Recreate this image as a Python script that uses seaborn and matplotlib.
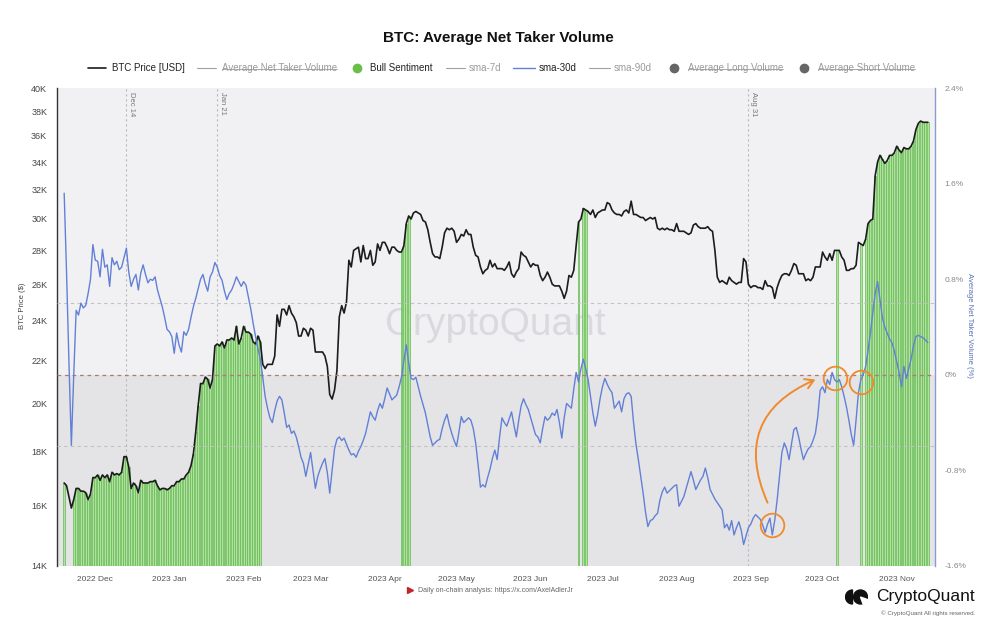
import numpy as np
import pandas as pd
import seaborn as sns
import matplotlib.pyplot as plt
import matplotlib.dates as mdates
from matplotlib.lines import Line2D
from matplotlib.patches import Rectangle, Wedge, Circle
from matplotlib.ticker import FixedLocator, NullLocator, FuncFormatter

# ------------------------------------------------------------
# data (one value per day from 18 Nov 2022)
# ------------------------------------------------------------
start_date = '2022-11-18'

# BTC price, thousand USD
btc_price_k = [
    # 2022 Nov 18-30
    16.8, 16.7, 16.3, 15.9, 16.2, 16.6, 16.6, 16.5, 16.5, 16.45, 16.2, 16.4, 17.0,
    # Dec
    17.0, 17.1, 16.9, 17.1, 17.0, 17.1, 16.85, 17.2, 17.1, 17.15,
    17.1, 17.2, 17.8, 17.8, 17.4, 16.6, 16.8, 16.7, 16.45, 16.9,
    16.8, 16.8, 16.8, 16.85, 16.85, 16.9, 16.7, 16.55, 16.6, 16.6, 16.55,
    # 2023 Jan
    16.6, 16.7, 16.7, 16.85, 16.85, 16.95, 16.95, 17.1, 17.2, 17.45,
    17.9, 18.8, 19.9, 20.9, 20.9, 21.2, 21.1, 20.7, 21.1, 22.7,
    22.8, 22.7, 22.9, 22.6, 23.0, 23.0, 23.1, 23.0, 23.7, 22.8, 23.1,
    # Feb
    23.7, 23.4, 23.4, 23.3, 22.9, 22.8, 23.2, 22.9, 21.8, 21.6,
    21.8, 21.8, 21.8, 22.2, 24.3, 23.7, 24.6, 24.6, 24.3, 24.8,
    24.4, 24.2, 23.9, 23.2, 23.2, 23.6, 23.5, 23.2,
    # Mar
    23.6, 23.5, 22.4, 22.4, 22.4, 22.4, 22.2, 21.7, 20.4, 20.2,
    20.6, 21.5, 24.2, 24.8, 24.4, 25.0, 27.4, 27.0, 28.0, 28.1,
    28.2, 27.3, 28.3, 27.5, 27.5, 28.0, 27.1, 27.3, 28.4, 28.0, 28.5,
    # Apr
    28.5, 28.2, 27.8, 28.2, 28.2, 28.0, 27.9, 27.9, 28.3, 29.7,
    30.2, 30.0, 30.4, 30.5, 30.4, 30.3, 29.9, 29.8, 29.3, 28.5,
    27.8, 27.6, 27.6, 27.5, 28.2, 29.1, 29.4, 29.3, 29.4, 29.2,
    # May
    28.5, 28.7, 29.0, 28.9, 29.3, 29.0, 29.0, 28.2, 27.7, 27.6,
    27.0, 26.6, 26.8, 26.9, 27.4, 27.0, 27.2, 26.9, 26.9, 26.9,
    26.8, 27.0, 27.3, 26.6, 26.4, 26.7, 26.9, 27.9, 27.7, 27.6, 27.3,
    # Jun
    27.0, 27.2, 27.1, 27.1, 26.5, 26.2, 26.4, 26.7, 26.4, 26.0,
    25.9, 25.9, 25.9, 25.6, 25.2, 25.6, 26.5, 26.4, 26.8, 28.3,
    29.8, 30.0, 30.7, 30.6, 30.5, 30.3, 30.6, 30.1, 30.4, 30.5,
    # Jul
    30.6, 30.6, 31.1, 31.0, 30.6, 30.4, 30.3, 30.3, 30.2, 30.5,
    30.6, 30.4, 31.2, 30.3, 30.3, 30.2, 30.1, 30.1, 29.9, 30.0,
    30.1, 30.0, 30.1, 29.4, 29.3, 29.4, 29.3, 29.4, 29.3, 29.3, 29.2,
    # Aug
    29.7, 29.2, 29.2, 29.2, 29.1, 29.0, 29.1, 29.6, 29.7, 29.5,
    29.4, 29.4, 29.4, 29.5, 29.3, 29.2, 28.0, 26.4, 26.1, 26.2,
    26.1, 26.0, 26.4, 26.2, 26.1, 26.0, 26.1, 26.1, 27.5, 27.3, 26.0,
    # Sep
    25.8, 25.9, 25.9, 25.8, 25.8, 25.7, 26.2, 25.9, 25.9, 25.8,
    25.2, 25.8, 26.2, 26.5, 26.6, 26.6, 26.5, 26.8, 27.2, 27.1,
    26.6, 26.6, 26.6, 26.2, 26.3, 26.2, 26.4, 27.0, 27.0, 27.0,
    # Oct
    27.9, 27.6, 27.4, 27.8, 27.4, 28.0, 28.0, 28.0, 27.6, 27.4,
    26.8, 26.8, 26.9, 26.9, 27.1, 28.5, 28.4, 28.3, 28.7, 29.7,
    29.9, 30.0, 33.0, 34.0, 34.5, 34.2, 33.9, 34.1, 34.5, 34.5, 34.7,
    # Nov 1-14
    35.2, 34.9, 34.7, 35.1, 35.0, 35.0, 35.2, 35.6, 36.5, 37.0,
    37.2, 37.1, 37.1, 37.1,
]

# Average Net Taker Volume, sma-30d, percent
net_taker_sma30 = [
    # 2022 Nov 18-30
    1.52, 0.85, 0.10, -0.59, 0.00, 0.54, 0.50, 0.60, 0.56, 0.58, 0.68, 0.80, 1.09,
    # Dec
    0.96, 0.95, 0.82, 1.05, 0.90, 0.92, 0.74, 0.98, 0.92, 0.95,
    0.88, 0.90, 0.98, 1.06, 0.86, 0.74, 0.80, 0.84, 0.71, 0.85,
    0.92, 0.84, 0.77, 0.80, 0.79, 0.82, 0.71, 0.64, 0.57, 0.48, 0.38,
    # 2023 Jan
    0.36, 0.32, 0.18, 0.35, 0.25, 0.19, 0.36, 0.33, 0.38, 0.48,
    0.57, 0.64, 0.72, 0.80, 0.84, 0.76, 0.70, 0.82, 0.86, 0.94,
    0.90, 0.83, 0.79, 0.70, 0.63, 0.68, 0.71, 0.76, 0.82, 0.78, 0.74,
    # Feb
    0.78, 0.75, 0.65, 0.55, 0.43, 0.32, 0.22, 0.13, -0.02, -0.18,
    -0.28, -0.36, -0.40, -0.30, -0.22, -0.18, -0.21, -0.32, -0.44, -0.42,
    -0.49, -0.47, -0.52, -0.60, -0.69, -0.74, -0.85, -0.75,
    # Mar
    -0.65, -0.80, -0.95, -0.85, -0.79, -0.74, -0.70, -0.82, -0.99, -0.80,
    -0.62, -0.54, -0.52, -0.55, -0.53, -0.58, -0.63, -0.67, -0.66, -0.69,
    -0.64, -0.60, -0.55, -0.49, -0.40, -0.31, -0.35, -0.38, -0.30, -0.24, -0.28,
    # Apr
    -0.20, -0.11, -0.16, -0.21, -0.19, -0.17, -0.10, -0.02, 0.12, 0.25,
    0.10, -0.03, -0.04, -0.02, -0.10, -0.18, -0.25, -0.32, -0.42, -0.52,
    -0.59, -0.57, -0.55, -0.54, -0.45, -0.38, -0.33, -0.42, -0.49, -0.55,
    # May
    -0.60, -0.48, -0.35, -0.40, -0.38, -0.36, -0.38, -0.45, -0.57, -0.75,
    -0.94, -0.92, -0.94, -0.86, -0.79, -0.70, -0.63, -0.71, -0.52, -0.36,
    -0.40, -0.43, -0.37, -0.31, -0.42, -0.52, -0.38, -0.26, -0.20, -0.25, -0.29,
    # Jun
    -0.36, -0.43, -0.50, -0.52, -0.57, -0.45, -0.35, -0.38, -0.36, -0.32,
    -0.34, -0.29, -0.40, -0.53, -0.36, -0.24, -0.26, -0.28, -0.12, 0.02,
    -0.06, 0.05, 0.13, 0.05, -0.04, -0.18, -0.32, -0.43, -0.33, -0.20,
    # Jul
    -0.10, -0.03, -0.08, -0.12, -0.15, -0.28, -0.25, -0.22, -0.31, -0.20,
    -0.16, -0.15, -0.18, -0.40, -0.58, -0.71, -0.85, -0.99, -1.15, -1.27,
    -1.22, -1.21, -1.18, -1.16, -1.05, -0.98, -0.94, -0.99, -0.97, -0.95, -0.93,
    # Aug
    -0.92, -1.10, -1.06, -1.02, -0.95, -0.88, -0.81, -0.88, -0.96, -0.92,
    -0.88, -0.85, -0.78, -0.86, -0.96, -1.00, -1.04, -1.07, -1.10, -1.13,
    -1.28, -1.25, -1.30, -1.22, -1.34, -1.28, -1.23, -1.30, -1.42, -1.35, -1.28,
    # Sep
    -1.25, -1.20, -1.17, -1.19, -1.21, -1.26, -1.32, -1.25, -1.20, -1.34,
    -1.22, -1.05, -0.85, -0.65, -0.57, -0.62, -0.71, -0.58, -0.46, -0.44,
    -0.52, -0.62, -0.71, -0.66, -0.62, -0.60, -0.55, -0.49, -0.35, -0.13,
    # Oct
    -0.10, -0.15, -0.04, -0.08, 0.02, -0.04, -0.06, -0.04, -0.10, -0.18,
    -0.27, -0.38, -0.50, -0.59, -0.38, -0.15, -0.04, 0.00, 0.07, 0.20,
    0.35, 0.52, 0.68, 0.78, 0.63, 0.48, 0.40, 0.35, 0.30, 0.27, 0.20,
    # Nov 1-14
    0.11, 0.02, -0.10, 0.07, -0.03, 0.05, 0.13, 0.24, 0.32, 0.33,
    0.32, 0.31, 0.29, 0.27,
]

# days flagged as bull sentiment (inclusive ranges)
bull_periods = [
    ('2022-11-18', '2022-11-18'),
    ('2022-11-22', '2023-02-08'),
    ('2023-04-08', '2023-04-11'),
    ('2023-06-21', '2023-06-21'),
    ('2023-06-23', '2023-06-24'),
    ('2023-10-07', '2023-10-07'),
    ('2023-10-17', '2023-10-17'),
    ('2023-10-19', '2023-11-14'),
]

events = ['2022-12-14', '2023-01-21', '2023-08-31']
event_labels = ['Dec 14', 'Jan 21', 'Aug 31']

price_ticks = [14000, 16000, 18000, 20000, 22000, 24000, 26000, 28000,
               30000, 32000, 34000, 36000, 38000, 40000]
ntv_ticks = [-1.6, -0.8, 0, 0.8, 1.6, 2.4]
ntv_grid = [-0.6, 0.6]

circled_days = ['2023-09-10', '2023-10-06', '2023-10-17']

assert len(btc_price_k) == len(net_taker_sma30)

df = pd.DataFrame({
    'date': pd.date_range(start_date, periods=len(btc_price_k), freq='D'),
    'price': np.array(btc_price_k) * 1000,
    'ntv': net_taker_sma30,
})
bull = np.zeros(len(df), dtype=bool)
for a, b in bull_periods:
    bull |= ((df['date'] >= a) & (df['date'] <= b)).to_numpy()

# ------------------------------------------------------------
# figure
# ------------------------------------------------------------
sns.set_theme(style='white')
plt.rcParams['font.family'] = ['Liberation Sans', 'DejaVu Sans']

BLUE = '#6280d6'
GREEN_FILL = '#b2e0a2'
GREEN_EDGE = '#62bb4c'
ORANGE = '#f08a2c'

fig = plt.figure(figsize=(10, 6.3), dpi=100)
ax = fig.add_axes([0.057, 0.1016, 0.878, 0.7587])
ax2 = ax.twinx()

lo, hi = ntv_ticks[0], ntv_ticks[-1]
ax.set_facecolor('#f1f1f4')
ax.add_patch(Rectangle((0, 0), 1, (0 - lo) / (hi - lo), transform=ax.transAxes,
                       color='#e4e4e7', lw=0, zorder=0))

# watermark
ax.text(0.499, 0.504, 'CryptoQuant', transform=ax.transAxes, ha='center', va='center',
        fontsize=28, color='#d9d9de', zorder=0.5)

# event lines
for d, lab in zip(events, event_labels):
    ax.axvline(pd.Timestamp(d), color='#b9b9bd', ls=(0, (2, 2.5)), lw=0.8, zorder=0.6)
    ax.annotate(lab, xy=(pd.Timestamp(d), 1), xycoords=('data', 'axes fraction'),
                xytext=(1, -3), textcoords='offset points', rotation=-90,
                ha='left', va='top', fontsize=5.5, color='#777777')

# bull sentiment bars, from the axis floor up to the price
sub = df[bull]
ax.bar(sub['date'], sub['price'] - price_ticks[0], bottom=price_ticks[0], width=0.8,
       color=GREEN_FILL, edgecolor=GREEN_EDGE, linewidth=0.5, zorder=1)

sns.lineplot(data=df, x='date', y='price', ax=ax, color='#1c1c1c', lw=1.2, zorder=3)

ax.set_yscale('log')
ax.set_ylim(price_ticks[0], price_ticks[-1])
ax.yaxis.set_major_locator(FixedLocator(price_ticks))
ax.yaxis.set_minor_locator(NullLocator())
ax.yaxis.set_major_formatter(FuncFormatter(lambda v, p: f'{v / 1000:.0f}K'))
ax.set_xlim(pd.Timestamp('2022-11-15'), pd.Timestamp('2023-11-17'))
ax.xaxis.set_major_locator(mdates.MonthLocator())
ax.xaxis.set_major_formatter(mdates.DateFormatter('%Y %b'))
ax.set_xlabel('')
ax.set_ylabel('')
ax.tick_params(axis='x', length=0, labelsize=6, colors='#555555', pad=7)
ax.tick_params(axis='y', length=0, labelsize=6.5, colors='#444444', pad=7)
for s in ['top', 'right', 'bottom']:
    ax.spines[s].set_visible(False)
ax.spines['left'].set_color('#333333')
ax.spines['left'].set_linewidth(1)

# net taker volume axis
for g in ntv_grid:
    ax2.axhline(g, color='#c2c2c6', ls=(0, (3, 3)), lw=0.8, zorder=1)
ax2.axhline(0, color='#b07a72', ls=(0, (3, 3)), lw=0.9, zorder=1)
sns.lineplot(data=df, x='date', y='ntv', ax=ax2, color=BLUE, lw=1.0, zorder=3)
ax2.set_ylim(lo, hi)
ax2.yaxis.set_major_locator(FixedLocator(ntv_ticks))
ax2.yaxis.set_major_formatter(FuncFormatter(lambda v, p: f'{v:g}%'))
ax2.set_xlabel('')
ax2.set_ylabel('')
ax2.tick_params(axis='y', length=0, labelsize=6, colors='#8a8a8a', pad=7)
for s in ['top', 'left', 'bottom']:
    ax2.spines[s].set_visible(False)
ax2.spines['right'].set_color('#8c9ad0')
ax2.spines['right'].set_linewidth(1)

# orange annotations: circles around the local 3-day average of the line
smooth = df.set_index('date')['ntv'].rolling(3, center=True).mean()
circ = smooth.loc[pd.to_datetime(circled_days)]
ax2.plot(circ.index, circ.values, ls='none', marker='o', ms=17, mfc='none',
         mec=ORANGE, mew=1.3, zorder=5)
ax2.annotate('', xy=(pd.Timestamp('2023-09-28'), -0.04), xytext=(pd.Timestamp('2023-09-08'), -1.07),
             arrowprops=dict(arrowstyle='->,head_length=0.5,head_width=0.3', color=ORANGE,
                             lw=1.4, shrinkA=0, shrinkB=0,
                             connectionstyle='arc3,rad=-0.5'), zorder=5)

# axis titles
fig.text(0.022, 0.515, 'BTC Price ($)', rotation=90, ha='center', va='center',
         fontsize=5.5, color='#444444')
fig.text(0.970, 0.484, 'Average Net Taker Volume (%)', rotation=-90, ha='center',
         va='center', fontsize=5.5, color='#5a6fb5')

# title
fig.text(0.498, 0.94, 'BTC: Average Net Taker Volume', ha='center', va='center',
         fontsize=11, weight='bold', color='#111111')

# legend row
W, H = 1000, 630
ly = 1 - 68 / H
legend_items = [
    ('line', 88, 106, '#1c1c1c', 1.2, 112, 'BTC Price [USD]', '#222222', False),
    ('line', 197, 216, '#a0a0a0', 0.8, 222, 'Average Net Taker Volume', '#9a9a9a', True),
    ('dot', 357, None, '#6abf4b', None, 370, 'Bull Sentiment', '#222222', False),
    ('line', 446, 465, '#a0a0a0', 0.8, 469, 'sma-7d', '#9a9a9a', False),
    ('line', 513, 535, BLUE, 1.0, 539, 'sma-30d', '#222222', False),
    ('line', 589, 610, '#a0a0a0', 0.8, 614, 'sma-90d', '#9a9a9a', False),
    ('dot', 674, None, '#666666', None, 688, 'Average Long Volume', '#9a9a9a', True),
    ('dot', 804, None, '#666666', None, 818, 'Average Short Volume', '#9a9a9a', True),
]
struck = []
for kind, x0, x1, col, lw, tx, lab, tcol, strike in legend_items:
    if kind == 'line':
        fig.add_artist(Line2D([x0 / W, x1 / W], [ly, ly], transform=fig.transFigure,
                              color=col, lw=lw))
    else:
        fig.add_artist(Line2D([x0 / W], [ly], transform=fig.transFigure, ls='none',
                              marker='o', ms=6, color=col))
    t = fig.text(tx / W, ly, lab, ha='left', va='center', fontsize=7, color=tcol)
    if strike:
        struck.append(t)

# footer
fig.add_artist(Line2D([410 / W], [1 - 590 / H], transform=fig.transFigure, ls='none',
                      marker='>', ms=4, color='#c0272d'))
fig.text(418 / W, 1 - 590 / H, 'Daily on-chain analysis: https://x.com/AxelAdlerJr',
         ha='left', va='center', fontsize=5, color='#666666')
fig.text(0.975, 1 - 596 / H, 'CryptoQuant', ha='right', va='center', fontsize=12.5,
         color='#111111')
fig.text(0.975, 1 - 613 / H, '\u00a9 CryptoQuant All rights reserved.', ha='right',
         va='center', fontsize=4.5, color='#666666')

# logo glyph
lax = fig.add_axes([845 / W, 1 - 605 / H, 23 / W, 16 / H])
lax.set_xlim(0, 23)
lax.set_ylim(0, 16)
lax.set_aspect('equal')
lax.axis('off')
lax.add_patch(Wedge((7.5, 8), 7, 90, 270, color='#111111'))
lax.add_patch(Circle((15.5, 8), 7, color='#111111'))
lax.add_patch(Wedge((15.5, 8), 7.5, 290, 340, color='white'))

# strike-through for hidden series in the legend
fig.canvas.draw()
r = fig.canvas.get_renderer()
for t in struck:
    bb = t.get_window_extent(r).transformed(fig.transFigure.inverted())
    ym = bb.y0 + 0.45 * (bb.y1 - bb.y0)
    fig.add_artist(Line2D([bb.x0, bb.x1], [ym, ym], transform=fig.transFigure,
                          color='#9a9a9a', lw=0.6))

fig.savefig('out.png', dpi=100)
